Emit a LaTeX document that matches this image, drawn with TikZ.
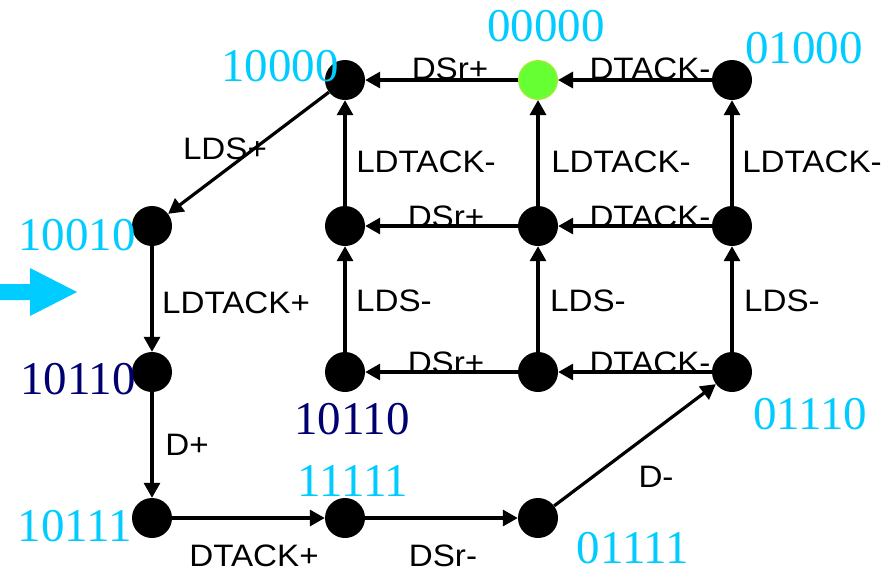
\documentclass[tikz,border=0pt]{standalone}
\usepackage{fontspec}
\setmainfont{Liberation Serif}
\newfontfamily\eventfont[FakeStretch=1.07]{Liberation Sans}
\usetikzlibrary{arrows.meta}
\definecolor{codecyan}{HTML}{00CCFF}
\definecolor{codenavy}{HTML}{000070}
\definecolor{startfill}{HTML}{66FF33}
\definecolor{startrim}{HTML}{99EE33}
\begin{document}
\begin{tikzpicture}[x=1pt,y=-1pt,
  state/.style={circle,fill=black,minimum size=40pt,inner sep=0pt},
  start/.style={state,fill=startfill,draw=startrim,line width=1.5pt,minimum size=38.5pt},
  trans/.style={line width=3.2pt,-{Triangle[length=15pt,width=16pt]}},
  evt/.style={font=\eventfont\fontsize{31}{31}\selectfont,inner sep=0pt},
  code/.style={font=\fontsize{47}{47}\selectfont,inner sep=0pt,text=codecyan},
  codedark/.style={code,text=codenavy}]
\useasboundingbox (0,0) rectangle (893,574);

% entry marker
\fill[codecyan] (0,284) -- (30,284) -- (30,268) -- (77,292) -- (30,316) -- (30,300) -- (0,300) -- cycle;

% states
\node[state] (s10000) at (345,80) {};
\node[start] (s00000) at (538,80) {};
\node[state] (s01000) at (732,80) {};
\node[state] (s10010) at (152,226) {};
\node[state] (m1) at (345,226) {};
\node[state] (m2) at (538,226) {};
\node[state] (m3) at (732,226) {};
\node[state] (s10110) at (152,372) {};
\node[state] (b1) at (345,372) {};
\node[state] (b2) at (538,372) {};
\node[state] (b3) at (732,372) {};
\node[state] (s10111) at (152,518) {};
\node[state] (s11111) at (345,518) {};
\node[state] (s01111) at (538,518) {};

% transitions
\draw[trans] (s00000) -- (s10000);
\draw[trans] (s01000) -- (s00000);
\draw[trans] (s10000) -- (s10010);
\draw[trans] (s10010) -- (s10110);
\draw[trans] (s10110) -- (s10111);
\draw[trans] (s10111) -- (s11111);
\draw[trans] (s11111) -- (s01111);
\draw[trans] (s01111) -- (b3);
\draw[trans] (b3) -- (b2);
\draw[trans] (b2) -- (b1);
\draw[trans] (m3) -- (m2);
\draw[trans] (m2) -- (m1);
\draw[trans] (b1) -- (m1);
\draw[trans] (b2) -- (m2);
\draw[trans] (b3) -- (m3);
\draw[trans] (m1) -- (s10000);
\draw[trans] (m2) -- (s00000);
\draw[trans] (m3) -- (s01000);

% transition labels
\node[evt] (eTopDSr) at (450,69) {DSr+};
\node[evt] (eTopDTACK) at (650,69) {DTACK-};
\node[evt] (eLDTACKa) at (426,162) {LDTACK-};
\node[evt] (eLDTACKb) at (621,162) {LDTACK-};
\node[evt] (eLDTACKc) at (812,162) {LDTACK-};
\node[evt] (eMidDSr) at (446,217) {DSr+};
\node[evt] (eMidDTACK) at (650,217) {DTACK-};
\node[evt] (eLDSa) at (394,301) {LDS-};
\node[evt] (eLDSb) at (588,301) {LDS-};
\node[evt] (eLDSc) at (782,301) {LDS-};
\node[evt] (eBotDSr) at (446,363) {DSr+};
\node[evt] (eBotDTACK) at (650,363) {DTACK-};
\node[evt] (eLDSplus) at (225,149) {LDS+};
\node[evt] (eLDTACKplus) at (236,303) {LDTACK+};
\node[evt] (eDplus) at (187,445) {D+};
\node[evt] (eDTACKplus) at (254,556) {DTACK+};
\node[evt] (eDSrminus) at (443,556) {DSr-};
\node[evt] (eDminus) at (656,477) {D-};

% state codes
\node[code] (c00000) at (546,26) {00000};
\node[code] (c10000) at (280,66) {10000};
\node[code] (c01000) at (804,48) {01000};
\node[code] (c10010) at (77,235) {10010};
\node[codedark] (c10110a) at (78,379) {10110};
\node[codedark] (c10110b) at (352,419) {10110};
\node[code] (c11111) at (353,481) {11111};
\node[code] (c10111) at (75,526) {10111};
\node[code] (c01110) at (810,414) {01110};
\node[code] (c01111) at (633,548) {01111};
\end{tikzpicture}
\end{document}
